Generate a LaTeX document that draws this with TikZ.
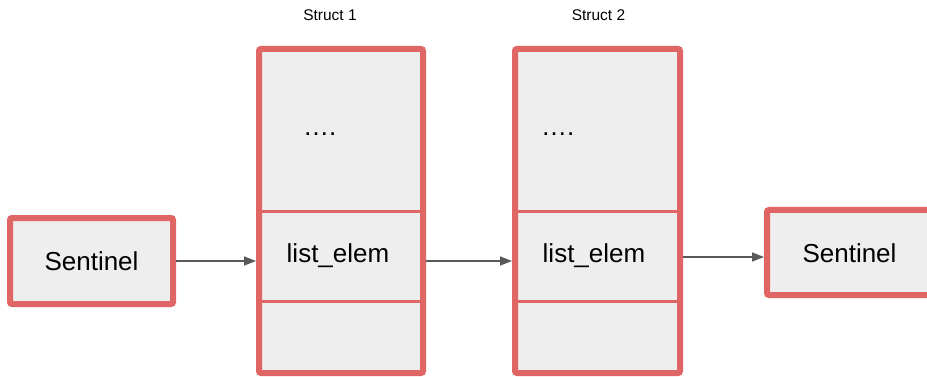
\documentclass[tikz,border=0pt]{standalone}
\usepackage{fontspec}
\setmainfont{Liberation Sans}
\usetikzlibrary{arrows.meta,calc}
\definecolor{framered}{HTML}{E06666}
\definecolor{cellfill}{HTML}{EEEEEE}
\definecolor{arrowgray}{HTML}{595959}
\tikzset{
  sentinelbox/.style={draw=framered, fill=cellfill, line width=6pt, rounded corners=2pt,
    inner sep=0pt, font=\fontsize{26}{30}\selectfont, text height=19pt, text depth=0pt},
  cellbox/.style={draw=framered, fill=cellfill, line width=3pt, inner sep=0pt},
  framebox/.style={draw=framered, line width=6pt, rounded corners=2pt, inner sep=0pt},
  bigtext/.style={inner sep=0pt, font=\fontsize{26}{30}\selectfont},
  titletext/.style={inner sep=0pt, font=\fontsize{15.5}{18}\selectfont},
  conn/.style={draw=arrowgray, line width=1.5pt, -{Triangle[length=12pt,width=9pt]}}
}
\begin{document}
\begin{tikzpicture}[x=1pt,y=-1pt]
\useasboundingbox (0,0) rectangle (927,377);

% left sentinel
\node[sentinelbox, minimum width=163pt, minimum height=86pt] (sentL) at (91.5,261) {Sentinel};

% struct 1
\node[cellbox, minimum width=164pt, minimum height=163pt] (s1top) at (341,130.5) {};
\node[cellbox, minimum width=164pt, minimum height=89pt] (s1mid) at (341,256.5) {};
\node[cellbox, minimum width=164pt, minimum height=72pt] (s1bot) at (341,337) {};
\node[framebox, minimum width=164pt, minimum height=324pt] (s1) at (341,211) {};
\node[bigtext, anchor=base] (s1lbl) at (338,262) {list\_elem};
\node[bigtext, anchor=base west] (s1dots) at (303,136) {\char"2026.};
\node[titletext, anchor=base] (s1title) at (330,20.5) {Struct 1};

% struct 2
\node[cellbox, minimum width=165pt, minimum height=163pt] (s2top) at (597.5,130.5) {};
\node[cellbox, minimum width=165pt, minimum height=89pt] (s2mid) at (597.5,256.5) {};
\node[cellbox, minimum width=165pt, minimum height=72pt] (s2bot) at (597.5,337) {};
\node[framebox, minimum width=165pt, minimum height=324pt] (s2) at (597.5,211) {};
\node[bigtext, anchor=base] (s2lbl) at (594,262) {list\_elem};
\node[bigtext, anchor=base west] (s2dots) at (541,136) {\char"2026.};
\node[titletext, anchor=base] (s2title) at (598.5,20.5) {Struct 2};

% right sentinel (runs off the right edge)
\node[sentinelbox, minimum width=165pt, minimum height=85pt] (sentR) at (849.5,252.5) {Sentinel};
\coordinate (rarrow) at (0,257);

% connectors
\draw[conn] (sentL.east) -- (s1.west |- sentL.east);
\draw[conn] (s1.east |- sentL.east) -- (s2.west |- sentL.east);
\draw[conn] (s2.east |- rarrow) -- (sentR.west |- rarrow);
\end{tikzpicture}
\end{document}
